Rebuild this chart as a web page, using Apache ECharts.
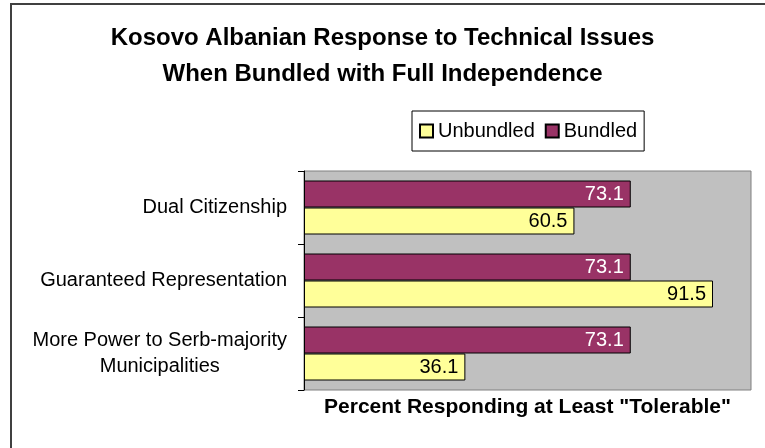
<!DOCTYPE html>
<html>
<head>
<meta charset="utf-8">
<script src="https://cdn.jsdelivr.net/npm/echarts@6/dist/echarts.min.js"></script>
<style>
html,body{margin:0;padding:0;background:#fff;}
#chart{width:765px;height:448px;}
</style>
</head>
<body>
<div id="chart"></div>
<script>
// Categories listed bottom-to-top (ECharts category y-axis order)
const categories = [
  "More Power to Serb-majority\nMunicipalities",
  "Guaranteed Representation",
  "Dual Citizenship"
];
const bundled = [73.1, 73.1, 73.1];
const unbundled = [36.1, 91.5, 60.5];
const legendNames = ["Unbundled", "Bundled"];
const chartTitle = "Kosovo Albanian Response to Technical Issues\nWhen Bundled with Full Independence";
const xAxisTitle = 'Percent Responding at Least "Tolerable"';

const FONT = '"Liberation Sans", Arial, sans-serif';
const chart = echarts.init(document.getElementById('chart'), null, {renderer: 'canvas'});

chart.setOption({
  animation: false,
  backgroundColor: '#ffffff',
  textStyle: {fontFamily: FONT},
  graphic: [{
    type: 'rect',
    silent: true,
    z: -10,
    shape: {x: 11, y: 4, width: 800, height: 500},
    style: {fill: 'none', stroke: '#404040', lineWidth: 2}
  }],
  title: {
    text: chartTitle,
    left: 'center',
    top: 20,
    padding: 0,
    textStyle: {fontFamily: FONT, fontSize: 24, fontWeight: 'bold', color: '#000', lineHeight: 36}
  },
  legend: {
    data: legendNames,
    left: 412,
    top: 111,
    orient: 'horizontal',
    icon: 'rect',
    itemWidth: 13,
    itemHeight: 13,
    itemGap: 10,
    padding: [10, 7, 10, 7],
    borderColor: '#000',
    borderWidth: 1,
    backgroundColor: '#fff',
    textStyle: {fontFamily: FONT, fontSize: 20, color: '#000'}
  },
  grid: {
    left: 304,
    top: 171,
    right: 14,
    bottom: 58,
    show: true,
    backgroundColor: '#C0C0C0',
    borderColor: '#808080',
    borderWidth: 1,
    containLabel: false
  },
  xAxis: {
    type: 'value',
    min: 0,
    max: 100,
    axisLabel: {show: false},
    axisTick: {show: false},
    axisLine: {show: false},
    splitLine: {show: false},
    name: xAxisTitle,
    nameLocation: 'middle',
    nameGap: 7,
    nameTextStyle: {fontFamily: FONT, fontSize: 21, fontWeight: 'bold', color: '#000', verticalAlign: 'top'}
  },
  yAxis: {
    type: 'category',
    data: categories,
    axisLine: {show: true, lineStyle: {color: '#000', width: 1}},
    axisTick: {show: true, length: 6, lineStyle: {color: '#000'}},
    splitLine: {show: false},
    axisLabel: {
      margin: 17,
      color: '#000',
      fontFamily: FONT,
      fontSize: 20,
      lineHeight: 26,
      formatter: function (v) {
        return v.split('\n').map(function (s) { return '{c|' + s + '}'; }).join('\n');
      },
      rich: {
        c: {align: 'center', fontFamily: FONT, fontSize: 20, lineHeight: 26, color: '#000'}
      }
    }
  },
  series: [
    {
      name: 'Bundled',
      type: 'bar',
      data: bundled,
      barWidth: 27,
      barGap: '0%',
      itemStyle: {color: '#993366', borderColor: '#000', borderWidth: 1},
      label: {show: true, position: 'insideRight', distance: 7, color: '#fff', fontFamily: FONT, fontSize: 20}
    },
    {
      name: 'Unbundled',
      type: 'bar',
      data: unbundled,
      barWidth: 27,
      barGap: '0%',
      itemStyle: {color: '#FFFF99', borderColor: '#000', borderWidth: 1},
      label: {show: true, position: 'insideRight', distance: 7, color: '#000', fontFamily: FONT, fontSize: 20}
    }
  ]
});
</script>
</body>
</html>
